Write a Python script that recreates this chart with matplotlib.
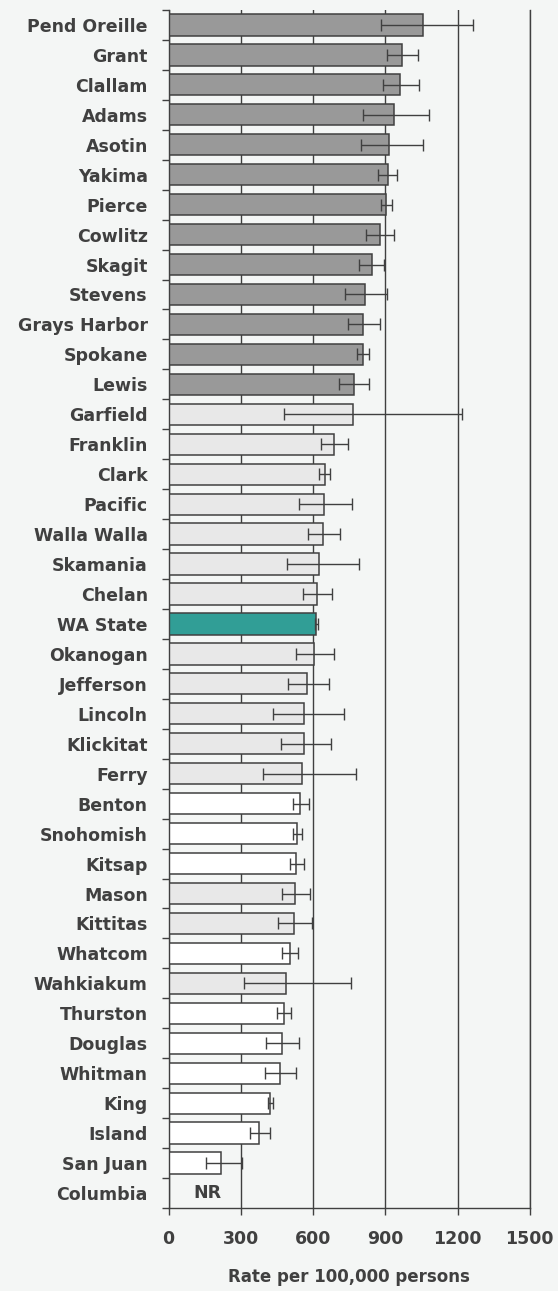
import numpy as np
import matplotlib.pyplot as plt
from matplotlib.ticker import FixedLocator

# county rates (per 100,000) with 95% CI, sorted as in the chart
counties = ['Pend Oreille', 'Grant', 'Clallam', 'Adams', 'Asotin', 'Yakima', 'Pierce',
            'Cowlitz', 'Skagit', 'Stevens', 'Grays Harbor', 'Spokane', 'Lewis',
            'Garfield', 'Franklin', 'Clark', 'Pacific', 'Walla Walla', 'Skamania',
            'Chelan', 'WA State', 'Okanogan', 'Jefferson', 'Lincoln', 'Klickitat',
            'Ferry', 'Benton', 'Snohomish', 'Kitsap', 'Mason', 'Kittitas', 'Whatcom',
            'Wahkiakum', 'Thurston', 'Douglas', 'Whitman', 'King', 'Island',
            'San Juan', 'Columbia']
rate = [1058, 969, 963, 935, 917, 910, 902, 876, 843, 815, 808, 806, 769,
        765, 686, 648, 644, 642, 623, 615, 614, 604, 574, 561, 561, 553,
        547, 534, 531, 525, 521, 506, 488, 479, 469, 462, 423, 377, 219, np.nan]
ci_low = [882, 905, 892, 808, 799, 871, 883, 820, 790, 734, 743, 781, 706,
          478, 632, 623, 543, 580, 490, 559, 607, 530, 494, 432, 467, 391,
          515, 516, 503, 470, 456, 472, 315, 451, 405, 401, 413, 336, 157, np.nan]
ci_high = [1263, 1034, 1038, 1081, 1055, 950, 926, 935, 896, 907, 877, 833, 834,
           1219, 746, 672, 762, 710, 791, 678, 621, 688, 667, 728, 675, 778,
           583, 552, 562, 586, 596, 537, 759, 507, 543, 531, 432, 423, 305, np.nan]
# group: 'high' = significantly higher, 'same' = not different, 'low' = lower, 'state'
group = ['high'] * 13 + ['same'] * 7 + ['state'] + ['same'] * 5 + \
        ['low', 'low', 'low', 'same', 'same', 'low', 'same',
         'low', 'low', 'low', 'low', 'low', 'low', 'none']
xticks = [0, 300, 600, 900, 1200, 1500]

colors = {'high': '#999999', 'same': '#e8e8e8', 'low': '#ffffff',
          'state': '#319e96', 'none': 'none'}
ink = '#404040'
bg = '#f4f6f5'

plt.rcParams['font.family'] = 'DejaVu Sans'
plt.rcParams['font.weight'] = 'bold'

fig = plt.figure(figsize=(5.58, 12.91), dpi=100, facecolor=bg)
ax = fig.add_axes([0.3023, 0.0643, 0.647, 0.9280], facecolor=bg)

y = np.arange(len(counties))
r = np.array(rate, dtype=float)
lo = np.array(ci_low, dtype=float)
hi = np.array(ci_high, dtype=float)

ax.grid(axis='x', color=ink, linewidth=1.0, zorder=0)
ax.barh(y, np.nan_to_num(r), height=0.71, color=[colors[g] for g in group],
        edgecolor=ink, linewidth=1.1, zorder=2)
ax.errorbar(r, y, xerr=[r - lo, hi - r], fmt='none', ecolor=ink,
            elinewidth=1.0, capsize=4.3, capthick=1.0, zorder=3)

# Columbia: not reported
nr_x = 160
ax.text(nr_x, counties.index('Columbia'), 'NR', ha='center', va='center',
        fontsize=12.5, fontweight='bold', color=ink, zorder=4)

ax.set_xlim(0, 1500)
ax.set_ylim(len(counties) - 0.5, -0.5)
ax.set_xticks(xticks)
ax.set_yticks(y)
ax.set_yticklabels(counties)
ax.yaxis.set_minor_locator(FixedLocator(np.arange(len(counties) + 1) - 0.5))
ax.tick_params(axis='y', which='major', length=0, pad=15, labelsize=12.5, labelcolor=ink)
ax.tick_params(axis='y', which='minor', length=5, width=1.0, color=ink)
ax.tick_params(axis='x', which='major', length=5, width=1.0, color=ink,
               pad=11, labelsize=12.5, labelcolor=ink)
ax.spines['top'].set_visible(False)
for s in ['left', 'bottom', 'right']:
    ax.spines[s].set_color(ink)
    ax.spines[s].set_linewidth(1.0)

ax.set_xlabel('Rate per 100,000 persons', fontsize=12, fontweight='bold',
              color=ink, labelpad=14)

fig.savefig('out.png', dpi=100, facecolor=bg)
